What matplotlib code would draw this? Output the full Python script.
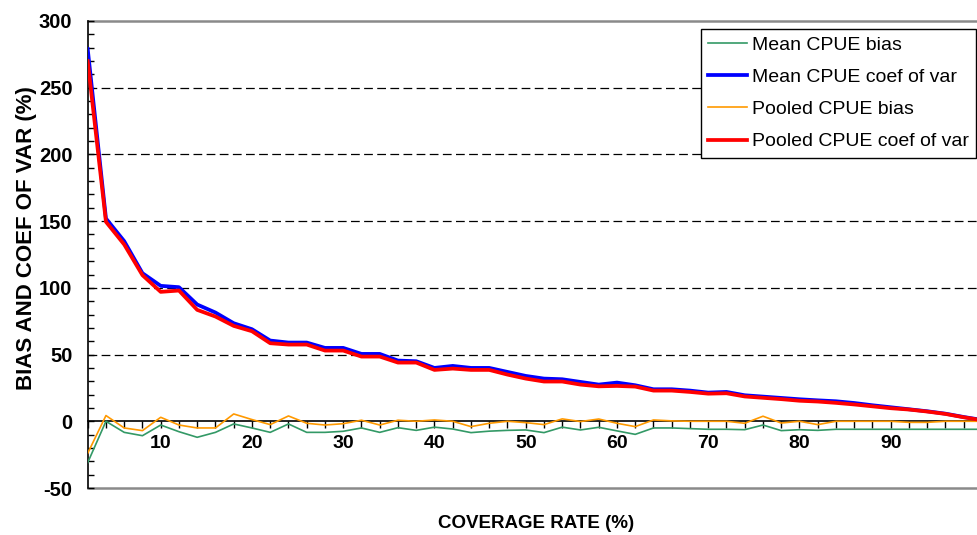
import matplotlib
matplotlib.use("Agg")
import matplotlib.pyplot as plt

plt.rcParams["font.family"] = ["Liberation Sans", "DejaVu Sans"]

# Coverage rate categories (%)
coverage = [2, 4, 6, 8, 10, 12, 14, 16, 18, 20,
            22, 24, 26, 28, 30, 32, 34, 36, 38, 40,
            42, 44, 46, 48, 50, 52, 54, 56, 58, 60,
            62, 64, 66, 68, 70, 72, 74, 76, 78, 80,
            82, 84, 86, 88, 90, 92, 94, 96, 98, 100]

mean_bias = [-31, 0, -8.3, -10.8, -2.8, -7.8, -12, -8.3, -2, -5,
             -8.3, -2, -8.3, -8.3, -7.5, -5, -8.3, -4.8, -6.8, -4.4,
             -5.8, -8.5, -7.4, -6.8, -6.5, -8.5, -4.4, -6.5, -4.5, -7.2,
             -9.8, -5, -5, -5.5, -6, -6, -6.3, -2.8, -7, -6.3,
             -6.8, -6, -6, -6, -6, -6, -6, -6, -6, -6]

mean_cv = [279, 152, 135, 111, 101.5, 100.5, 87.5, 81.5, 73.5, 69,
           60.5, 59, 59, 55, 55, 50.5, 50.5, 45.5, 45, 40,
           41.5, 40, 40, 37, 34, 32, 31.5, 29.5, 27.5, 29,
           27, 24, 24, 23, 21.5, 22, 19.5, 18.5, 17.5, 16.5,
           15.7, 15, 13.7, 12, 10.5, 9, 7.5, 5.7, 3.2, 1]

pooled_bias = [-24, 4.3, -5, -7, 3, -2.8, -5, -5, 5.5, 1.3,
               -2.5, 4, -1.5, -2.8, -1.8, 0.8, -2.8, 0.8, 0, 1,
               0, -4, -1.5, 0, -1, -2.5, 1.8, -0.2, 1.7, -1.5,
               -4, 1, 0.3, 0, 0, 0, -1.5, 3.8, -1.3, 0,
               -2.5, 0, 0, 0, 0, -0.8, -0.8, 0, 0, 0]

pooled_cv = [270, 149.5, 132.5, 109.5, 97, 98, 83.5, 78.5, 71.5, 67.5,
             58.5, 57.5, 57.5, 53, 53, 48.5, 48.5, 44, 44, 38.5,
             39.5, 38.5, 38.5, 35, 32, 29.8, 29.8, 27.5, 26.2, 26.5,
             26, 23, 23, 22, 20.7, 21, 18.6, 17.6, 16.6, 15.4,
             14.8, 13.8, 12.6, 11.2, 9.8, 8.8, 7.3, 5.5, 3.0, 0.8]

x_tick_labels = ["" if c % 10 or c == 100 else str(c) for c in coverage]
y_ticks = [-50, 0, 50, 100, 150, 200, 250, 300]
y_minor = [v for v in range(-50, 301, 10)]
grid_levels = [50, 100, 150, 200, 250]

fig = plt.figure(figsize=(9.78, 5.35), dpi=100)
ax = fig.add_axes([87.7 / 978, 1 - 488 / 535, (982 - 87.7) / 978, (488 - 21) / 535])

# dashed horizontal grid and grey plot-area border
for level in grid_levels:
    ax.axhline(level, color="black", lw=0.9, dashes=(7, 3.5), zorder=1)
ax.axhline(300, color="#8a8a8a", lw=1.8, zorder=1, clip_on=False)
ax.axhline(-50, color="#8a8a8a", lw=1.8, zorder=1, clip_on=False)

ax.plot(coverage, mean_bias, color="#339966", lw=1.2, label="Mean CPUE bias", zorder=3)
ax.plot(coverage, mean_cv, color="#0000FF", lw=2.7, label="Mean CPUE coef of var", zorder=3)
ax.plot(coverage, pooled_bias, color="#FF9900", lw=1.2, label="Pooled CPUE bias", zorder=3)
ax.plot(coverage, pooled_cv, color="#FF0000", lw=2.7, label="Pooled CPUE coef of var", zorder=3)

ax.set_xlim(2, 100)
ax.set_ylim(-50, 300)

ax.spines["top"].set_visible(False)
ax.spines["right"].set_visible(False)
ax.spines["bottom"].set_position(("data", 0))
ax.spines["bottom"].set_linewidth(1.2)
ax.spines["left"].set_linewidth(1.2)

ax.set_yticks(y_ticks)
ax.set_yticklabels([str(v) for v in y_ticks], fontweight="bold")
ax.set_yticks(y_minor, minor=True)
ax.tick_params(axis="y", which="both", direction="in", length=4, width=1,
               labelsize=14.5, pad=11)

ax.set_xticks(coverage)
ax.set_xticklabels(x_tick_labels, fontweight="bold")
ax.tick_params(axis="x", direction="out", length=5, width=1,
               labelsize=14, pad=5)

ax.set_xlabel("COVERAGE RATE (%)", fontsize=13.5, fontweight="bold")
ax.xaxis.set_label_coords(0.501, -0.058)
ax.set_ylabel("BIAS AND COEF OF VAR (%)", fontsize=16, fontweight="bold")
ax.yaxis.set_label_coords(-0.057, 0.535)

leg = ax.legend(loc="upper right", bbox_to_anchor=(976 / 978, 1 - 29 / 535),
                bbox_transform=fig.transFigure, borderaxespad=0,
                fontsize=14, fancybox=False, framealpha=1, edgecolor="black",
                borderpad=0.37, labelspacing=0.75, handlelength=2.0,
                handletextpad=0.26)
leg.get_frame().set_linewidth(1.0)

fig.savefig("out.png", dpi=100)
